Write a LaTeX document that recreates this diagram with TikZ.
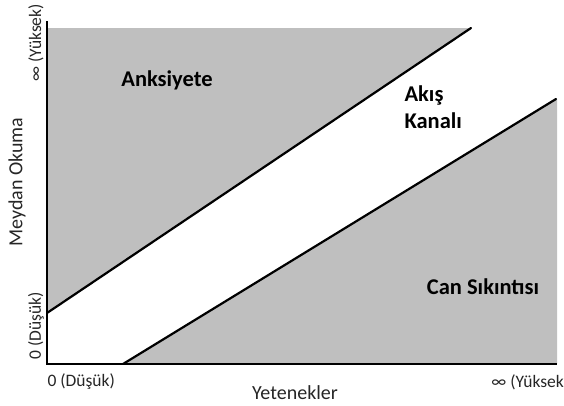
\documentclass[tikz,border=0pt]{standalone}
\usepackage{fontspec}
\setmainfont{Carlito}
\begin{document}
\begin{tikzpicture}[x=1pt,y=-1pt,
  zone/.style={fill=black!25,draw=none},
  edge/.style={line width=2.2pt,line cap=round},
  axis/.style={line width=2pt},
  region/.style={font=\bfseries\fontsize{22.5}{27}\selectfont,text=black},
  tick/.style={font=\fontsize{17.5}{20}\selectfont,text=black!85},
  title/.style={font=\fontsize{20}{24}\selectfont,text=black!85}]
\useasboundingbox (0,0) rectangle (564,405);
% frame corners and line end points
\coordinate (O) at (47,364);
\coordinate (ytop) at (47,21);
\coordinate (xend) at (557,364);
\coordinate (a0) at (47,313);
\coordinate (a1) at (471,28);
\coordinate (b0) at (123,364);
\coordinate (b1) at (556,99);
% shaded zones
\fill[zone] (47,28) -- (a1) -- (a0) -- cycle;
\fill[zone] (b0) -- (b1) -- (557,99) -- (xend) -- cycle;
% boundary lines
\draw[edge] (a0) -- (a1);
\draw[edge] (b0) -- (b1);
% axes
\draw[axis] (ytop) -- (O) -- (xend);
% zone labels
\node[region] (anx) at (167,80) {Anksiyete};
\node[region,align=left,anchor=north west] (flow) at (401,82) {Akış\\Kanalı};
\node[region] (bore) at (483,287) {Can Sıkıntısı};
% axis labels
\node[tick,anchor=west] (x0) at (44,382) {0 (Düşük)};
\node[tick,anchor=east,inner sep=0pt] (x1) at (564,382) {∞ (Yüksek};
\node[title] (xt) at (295,393) {Yetenekler};
\node[tick,rotate=90] (y0) at (36,326) {0 (Düşük)};
\node[tick,rotate=90] (y1) at (36,43) {∞ (Yüksek)};
\node[title,rotate=90] (yt) at (17,182) {Meydan Okuma};
\end{tikzpicture}
\end{document}
